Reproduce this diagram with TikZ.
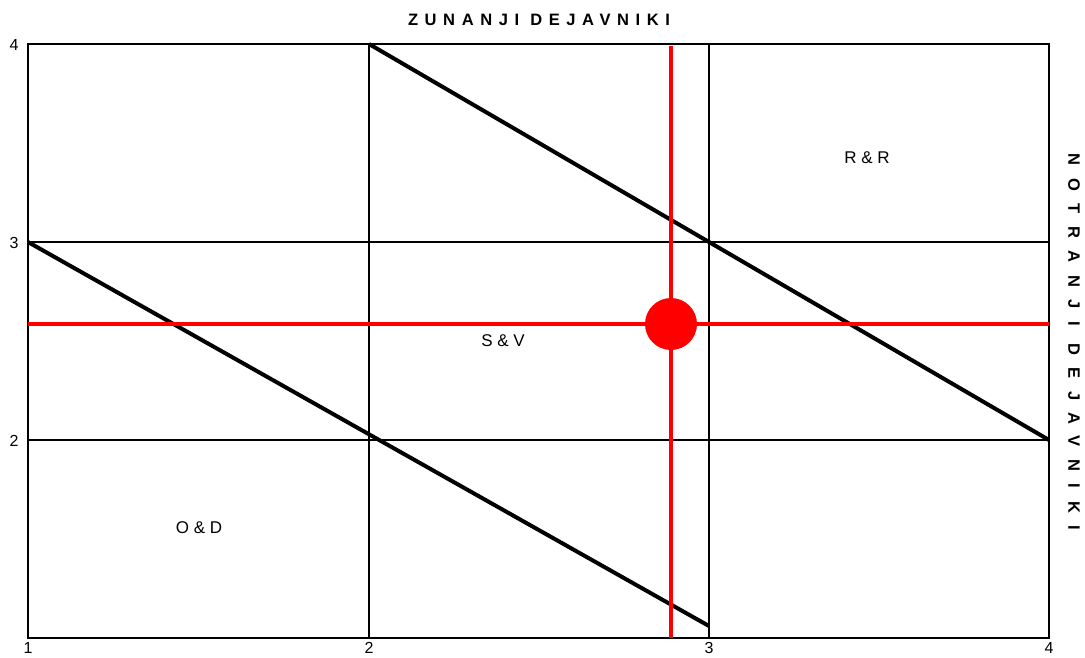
\documentclass[tikz,border=0pt]{standalone}
\usepackage{fontspec}
\setmainfont{Liberation Sans}
\begin{document}
\begin{tikzpicture}[x=1pt,y=-1pt,
  grid/.style={black,line width=2.2pt},
  diag/.style={black,line width=4pt},
  redline/.style={red,line width=3.5pt},
  tick/.style={font=\fontsize{16}{18}\selectfont,inner sep=0pt},
  region/.style={font=\fontsize{17}{19}\selectfont,inner sep=0pt},
  axtitle/.style={font=\fontsize{16.5}{18}\selectfont\bfseries,inner sep=0pt}]
\useasboundingbox (0,0) rectangle (1085,657);
% grid
\draw[grid] (28,44) rectangle (1049,638);
\draw[grid] (28,242) -- (1049,242);
\draw[grid] (28,440) -- (1049,440);
\draw[grid] (369,44) -- (369,638);
\draw[grid] (709,44) -- (709,638);
% diagonals
\draw[diag] (369,44) -- (1049,440);
\draw[diag] (28,242) -- (709,626);
% red lines
\draw[redline] (28,324) -- (1049,324);
\draw[redline] (671,46) -- (671,638);
\fill[red] (671,324) circle (26);
% ticks
\node[tick] at (14,45) {4};
\node[tick] at (14,243) {3};
\node[tick] at (14,441) {2};
\node[tick,anchor=north] at (28,642) {1};
\node[tick,anchor=north] at (369,642) {2};
\node[tick,anchor=north] at (709,642) {3};
\node[tick,anchor=north] at (1049,642) {4};
% region labels
\node[region] at (199,528) {O \& D};
\node[region] at (503,341) {S \& V};
\node[region] at (867,158) {R \& R};
% axis titles
\node[axtitle] at (539,20) {\addfontfeature{LetterSpace=40}ZUNANJI DEJAVNIKI};
\node[axtitle,rotate=-90] at (1074,342) {\addfontfeature{LetterSpace=76}NOTRANJI DEJAVNIKI};
\end{tikzpicture}
\end{document}
